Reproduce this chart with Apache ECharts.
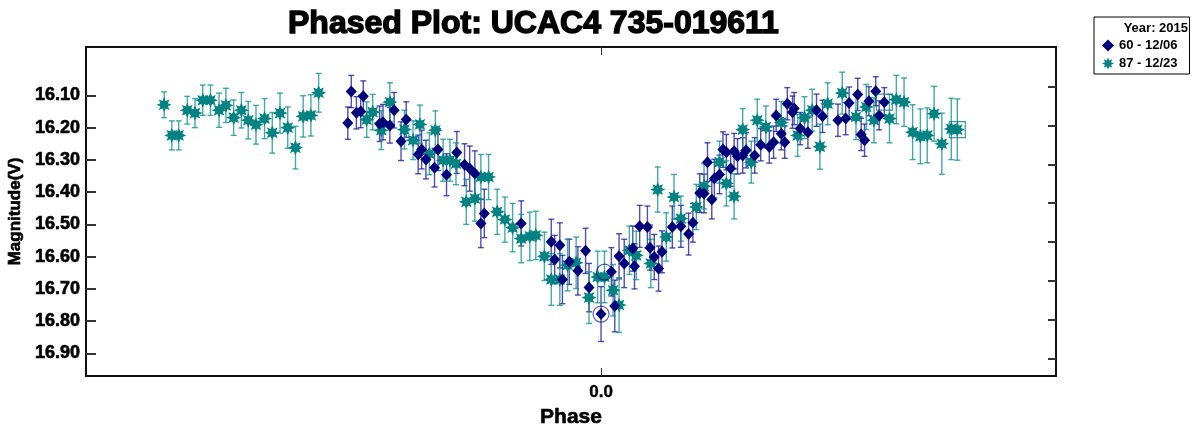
<!DOCTYPE html>
<html>
<head>
<meta charset="utf-8">
<script src="https://cdn.jsdelivr.net/npm/echarts@6.0.0/dist/echarts.min.js"></script>
<style>
  html, body { margin: 0; padding: 0; background: #fff; }
  #main { width: 1195px; height: 427px; }
</style>
</head>
<body>
<div id="main"></div>
<script>
// run of 12/06 (navy diamonds)
var navyPhase = [-0.295, -0.291, -0.285, -0.280, -0.277, -0.258, -0.254, -0.246, -0.241, -0.233,
  -0.227, -0.213, -0.209, -0.204, -0.194, -0.190, -0.180, -0.168, -0.159, -0.153,
  -0.147, -0.140, -0.136, -0.093, -0.058, -0.054, -0.048, -0.045, -0.037, -0.027,
  -0.018, -0.014, 0.000, 0.012, 0.016, 0.021, 0.027, 0.037, 0.039, 0.045,
  0.054, 0.057, 0.062, 0.067, 0.071, 0.083, 0.093, 0.102, 0.107, 0.115,
  0.120, 0.124, 0.129, 0.132, 0.138, 0.142, 0.146, 0.151, 0.155, 0.159,
  0.165, 0.169, 0.179, 0.186, 0.196, 0.201, 0.204, 0.210, 0.214, 0.217,
  0.223, 0.225, 0.232, 0.241, 0.251, 0.258, 0.276, 0.285, 0.289, 0.299,
  0.303, 0.307, 0.312, 0.320, 0.324, 0.330];
var navyMag = [16.186, 16.088, 16.154, 16.150, 16.103, 16.188, 16.183, 16.193, 16.146, 16.242,
  16.175, 16.283, 16.268, 16.299, 16.324, 16.268, 16.346, 16.277, 16.315, 16.327,
  16.342, 16.497, 16.466, 16.497, 16.554, 16.609, 16.565, 16.671, 16.616, 16.644,
  16.582, 16.696, 16.778, 16.647, 16.753, 16.599, 16.621, 16.575, 16.630, 16.506,
  16.508, 16.572, 16.601, 16.637, 16.585, 16.508, 16.506, 16.530, 16.495, 16.403,
  16.404, 16.307, 16.423, 16.358, 16.345, 16.268, 16.276, 16.327, 16.273, 16.289,
  16.286, 16.270, 16.286, 16.253, 16.260, 16.245, 16.162, 16.219, 16.245, 16.126,
  16.152, 16.141, 16.203, 16.214, 16.146, 16.165, 16.177, 16.172, 16.124, 16.097,
  16.221, 16.239, 16.118, 16.087, 16.162, 16.121];
var navyErr = [0.05, 0.05, 0.05, 0.05, 0.048, 0.055, 0.055, 0.055, 0.055, 0.06,
  0.055, 0.06, 0.06, 0.06, 0.06, 0.065, 0.065, 0.065, 0.065, 0.07,
  0.07, 0.075, 0.075, 0.07, 0.07, 0.075, 0.07, 0.075, 0.07, 0.075,
  0.07, 0.075, 0.085, 0.075, 0.08, 0.07, 0.075, 0.07, 0.07, 0.065,
  0.065, 0.07, 0.07, 0.07, 0.065, 0.065, 0.065, 0.065, 0.06, 0.06,
  0.06, 0.06, 0.06, 0.06, 0.06, 0.055, 0.055, 0.055, 0.055, 0.055,
  0.055, 0.055, 0.055, 0.05, 0.05, 0.05, 0.05, 0.05, 0.05, 0.05,
  0.05, 0.05, 0.05, 0.05, 0.05, 0.05, 0.05, 0.05, 0.05, 0.05,
  0.05, 0.05, 0.045, 0.045, 0.045, 0.045];

// run of 12/23 (teal asterisks)
var tealPhase = [-0.509, -0.500, -0.492, -0.482, -0.473, -0.464, -0.455, -0.445, -0.437, -0.428,
  -0.419, -0.411, -0.402, -0.392, -0.383, -0.374, -0.365, -0.356, -0.347, -0.338,
  -0.329, -0.273, -0.266, -0.256, -0.246, -0.229, -0.219, -0.211, -0.200, -0.193,
  -0.184, -0.176, -0.169, -0.157, -0.147, -0.140, -0.131, -0.121, -0.112, -0.103,
  -0.093, -0.083, -0.076, -0.066, -0.058, -0.048, -0.039, -0.029, -0.014, -0.004,
  0.004, 0.014, 0.021, 0.033, 0.041, 0.058, 0.066, 0.076, 0.085, 0.093,
  0.111, 0.120, 0.138, 0.146, 0.155, 0.165, 0.175, 0.182, 0.192, 0.210,
  0.229, 0.237, 0.246, 0.255, 0.264, 0.281, 0.297, 0.309, 0.318, 0.336,
  0.344, 0.353, 0.363, 0.372, 0.380, 0.388, 0.397, 0.408, 0.415];
var tealMag = [16.129, 16.224, 16.224, 16.146, 16.155, 16.115, 16.115, 16.146, 16.131, 16.169,
  16.146, 16.177, 16.191, 16.172, 16.216, 16.155, 16.200, 16.262, 16.165, 16.162,
  16.092, 16.175, 16.152, 16.208, 16.121, 16.206, 16.239, 16.190, 16.281, 16.208,
  16.301, 16.301, 16.312, 16.430, 16.420, 16.353, 16.353, 16.461, 16.485, 16.510,
  16.544, 16.537, 16.534, 16.599, 16.671, 16.671, 16.626, 16.619, 16.727, 16.663,
  16.663, 16.704, 16.750, 16.580, 16.596, 16.621, 16.392, 16.539, 16.415, 16.482,
  16.446, 16.382, 16.307, 16.373, 16.413, 16.206, 16.307, 16.177, 16.198, 16.184,
  16.224, 16.169, 16.146, 16.259, 16.126, 16.093, 16.167, 16.136, 16.177, 16.172,
  16.113, 16.121, 16.214, 16.227, 16.224, 16.157, 16.250, 16.204, 16.206];
var tealErr = [0.04, 0.045, 0.045, 0.043, 0.045, 0.047, 0.047, 0.053, 0.053, 0.055,
  0.055, 0.058, 0.06, 0.062, 0.063, 0.062, 0.064, 0.066, 0.064, 0.064,
  0.06, 0.055, 0.055, 0.06, 0.06, 0.06, 0.06, 0.06, 0.065, 0.06,
  0.065, 0.065, 0.065, 0.07, 0.07, 0.07, 0.07, 0.07, 0.07, 0.075,
  0.075, 0.075, 0.075, 0.075, 0.08, 0.08, 0.08, 0.08, 0.08, 0.08,
  0.08, 0.08, 0.085, 0.075, 0.075, 0.075, 0.07, 0.075, 0.07, 0.07,
  0.07, 0.07, 0.065, 0.07, 0.07, 0.065, 0.065, 0.065, 0.065, 0.065,
  0.065, 0.065, 0.065, 0.07, 0.065, 0.065, 0.07, 0.07, 0.07, 0.075,
  0.075, 0.075, 0.085, 0.085, 0.085, 0.085, 0.095, 0.095, 0.095];

// marked points (circles / squares in the plot)
var circled = [[0.000, 16.778], [0.004, 16.648]];
var boxed = [[0.330, 16.121], [0.415, 16.206]];

var yTicks = [16.1, 16.2, 16.3, 16.4, 16.5, 16.6, 16.7, 16.8, 16.9];
var xTicks = [0];
var rightTicks = [16.072, 16.195, 16.314, 16.434, 16.555, 16.674, 16.795, 16.915];

var navyName = '60 - 12/06';
var tealName = '87 - 12/23';

var NAVY = '#00007a';
var TEAL = '#008282';
var FONT = '"Liberation Sans", Arial, sans-serif';

// 8 spoke asterisk
function starPath(n, rIn) {
  var d = '';
  for (var i = 0; i < 2 * n; i++) {
    var a = i * Math.PI / n - Math.PI / 2;
    var r = i % 2 ? rIn : 1;
    d += (i ? 'L' : 'M') + (r * Math.cos(a)).toFixed(3) + ' ' + (r * Math.sin(a)).toFixed(3) + ' ';
  }
  return 'path://' + d + 'Z';
}
var ASTER = starPath(8, 0.55);

function points(ph, mg) {
  return ph.map(function (p, i) { return [p, mg[i]]; });
}
function bars(ph, mg, er) {
  return ph.map(function (p, i) { return [p, mg[i] - er[i], mg[i] + er[i]]; });
}
function errRender(color) {
  return function (params, api) {
    var a = api.coord([api.value(0), api.value(1)]);
    var b = api.coord([api.value(0), api.value(2)]);
    var w = 3;
    var st = { stroke: color, lineWidth: 1.4 };
    return {
      type: 'group',
      children: [
        { type: 'line', shape: { x1: a[0], y1: a[1], x2: b[0], y2: b[1] }, style: st },
        { type: 'line', shape: { x1: a[0] - w, y1: a[1], x2: a[0] + w, y2: a[1] }, style: st },
        { type: 'line', shape: { x1: b[0] - w, y1: b[1], x2: b[0] + w, y2: b[1] }, style: st }
      ]
    };
  };
}

var boldText = { textBorderColor: '#000', textBorderWidth: 0.6 };

var chart = echarts.init(document.getElementById('main'));
chart.setOption({
  animation: false,
  backgroundColor: '#fff',
  title: {
    text: 'Phased Plot: UCAC4 735-019611',
    left: 283, top: 3,
    textStyle: { fontFamily: FONT, fontSize: 32, fontWeight: 'bold', color: '#000',
      textBorderColor: '#000', textBorderWidth: 1.4 }
  },
  legend: {
    orient: 'vertical',
    left: 1094, top: 17,
    padding: [22, 12, 4, 8],
    itemGap: 5, itemWidth: 12, itemHeight: 12,
    borderColor: '#000', borderWidth: 1,
    textStyle: { fontFamily: FONT, fontSize: 13, fontWeight: 'bold', color: '#000' },
    data: [
      { name: navyName, icon: 'diamond', itemStyle: { color: NAVY } },
      { name: tealName, icon: ASTER, itemStyle: { color: TEAL } }
    ]
  },
  graphic: [{
    type: 'text', right: 7, top: 22,
    style: { text: 'Year: 2015', font: 'bold 13px ' + FONT, fill: '#000' }
  }],
  grid: {
    left: 86, right: 139, top: 47, bottom: 51,
    show: true, borderColor: '#111', borderWidth: 2,
    outerBoundsMode: 'none'
  },
  xAxis: [{
    type: 'value', min: -0.6, max: 0.53,
    name: 'Phase', nameLocation: 'middle', nameGap: 30,
    nameTextStyle: Object.assign({ fontFamily: FONT, fontSize: 21, fontWeight: 'bold', color: '#000' }, boldText),
    axisLine: { show: false, onZero: false },
    axisTick: { inside: true, length: 8, customValues: xTicks, lineStyle: { color: '#333' } },
    axisLabel: Object.assign({
      customValues: xTicks, margin: 8,
      fontFamily: FONT, fontSize: 17, fontWeight: 'bold', color: '#000',
      formatter: function (v) { return v.toFixed(1); }
    }, { textBorderColor: '#000', textBorderWidth: 0.4 }),
    splitLine: { show: false }
  }, {
    type: 'value', position: 'top', min: -0.6, max: 0.53,
    axisLine: { show: false, onZero: false },
    axisTick: { inside: true, length: 8, customValues: xTicks, lineStyle: { color: '#333' } },
    axisLabel: { show: false },
    splitLine: { show: false }
  }],
  yAxis: [{
    type: 'value', inverse: true, min: 15.95, max: 16.97,
    name: 'Magnitude(V)', nameLocation: 'middle', nameGap: 60,
    nameTextStyle: Object.assign({ fontFamily: FONT, fontSize: 17, fontWeight: 'bold', color: '#000' }, boldText),
    axisLine: { show: false, onZero: false },
    axisTick: { inside: true, length: 10, customValues: yTicks, lineStyle: { color: '#333', width: 2 } },
    axisLabel: Object.assign({
      customValues: yTicks, margin: 6,
      fontFamily: FONT, fontSize: 18, fontWeight: 'bold', color: '#000',
      formatter: function (v) { return v.toFixed(2); }
    }, boldText),
    splitLine: { show: false }
  }, {
    type: 'value', position: 'right', inverse: true, min: 15.95, max: 16.97,
    axisLine: { show: false, onZero: false },
    axisTick: { inside: true, length: 8, customValues: rightTicks, lineStyle: { color: '#333', width: 2 } },
    axisLabel: { show: false },
    splitLine: { show: false }
  }],
  series: [
    {
      name: 'navy err', type: 'custom', renderItem: errRender('rgba(20,20,150,0.75)'),
      encode: { x: 0, y: [1, 2] }, data: bars(navyPhase, navyMag, navyErr), z: 1
    },
    {
      name: 'teal err', type: 'custom', renderItem: errRender('rgba(10,140,140,0.75)'),
      encode: { x: 0, y: [1, 2] }, data: bars(tealPhase, tealMag, tealErr), z: 1
    },
    {
      name: tealName, type: 'scatter', symbol: ASTER, symbolSize: 15,
      itemStyle: { color: TEAL, opacity: 1 }, data: points(tealPhase, tealMag), z: 3
    },
    {
      name: navyName, type: 'scatter', symbol: 'diamond', symbolSize: [11, 12],
      itemStyle: { color: NAVY, opacity: 1 }, data: points(navyPhase, navyMag), z: 4
    },
    {
      name: 'circled', type: 'scatter', symbol: 'circle', symbolSize: 16,
      itemStyle: { color: 'none', borderColor: 'rgba(0,0,120,0.8)', borderWidth: 1.2 },
      data: circled, z: 5
    },
    {
      name: 'boxed', type: 'scatter', symbol: 'rect', symbolSize: 16,
      itemStyle: { color: 'none', borderColor: 'rgba(0,110,120,0.9)', borderWidth: 1.2 },
      data: boxed, z: 5
    }
  ]
});
</script>
</body>
</html>
